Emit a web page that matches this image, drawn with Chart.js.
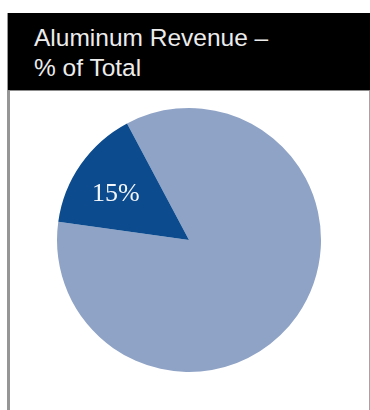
<!DOCTYPE html>
<html>
<head>
<meta charset="utf-8">
<script src="https://cdn.jsdelivr.net/npm/chart.js@4/dist/chart.umd.min.js"></script>
<style>
  html, body { margin: 0; padding: 0; background: #fff; width: 370px; height: 410px; overflow: hidden; }
  #frame {
    position: absolute; left: 7px; top: 13px; width: 359px; height: 420px;
    border-left: 3px solid #969696; border-right: 2px solid #a4a4a4;
  }
  #head {
    position: absolute; left: 8px; top: 13px; width: 362px; height: 77px;
    background: #000; border-bottom: 1px solid #8c8c8c;
  }
  #title {
    position: absolute; left: 34px; top: 23px;
    color: #ececec; font-family: "Liberation Sans", Arial, sans-serif;
    font-size: 24.5px; line-height: 30px; white-space: nowrap;
  }
  #wrap { position: absolute; left: 0; top: 91px; width: 370px; height: 319px; }
</style>
</head>
<body>
<div id="frame"></div>
<div id="head"></div>
<div id="title">Aluminum Revenue –<br>% of Total</div>
<div id="wrap"><canvas id="pie" width="370" height="319"></canvas></div>
<script>
// Share of revenue: rest of the business vs. aluminum
const categories = ["Other", "Aluminum"];
const shares = [85, 15];
const sliceColors = ["#8fa3c6", "#0b4b8e"];
const labelled = [false, true];

// Writes the percentage inside each labelled slice
const sliceLabels = {
  id: "sliceLabels",
  afterDatasetsDraw(chart) {
    const ctx = chart.ctx;
    const meta = chart.getDatasetMeta(0);
    meta.data.forEach((arc, i) => {
      if (!labelled[i]) return;
      const p = arc.getProps(["x", "y", "startAngle", "endAngle", "outerRadius"], true);
      const mid = (p.startAngle + p.endAngle) / 2 - 0.05;
      const r = p.outerRadius * 0.655;
      ctx.save();
      ctx.fillStyle = "#f4f6fa";
      ctx.font = "26px 'Liberation Serif', 'DejaVu Serif', serif";
      ctx.textAlign = "center";
      ctx.textBaseline = "middle";
      ctx.fillText(shares[i] + "%", p.x + Math.cos(mid) * r, p.y + Math.sin(mid) * r);
      ctx.restore();
    });
  }
};

new Chart(document.getElementById("pie"), {
  type: "pie",
  data: {
    labels: categories,
    datasets: [{
      data: shares,
      backgroundColor: sliceColors,
      borderWidth: 0
    }]
  },
  options: {
    responsive: false,
    animation: false,
    rotation: -28,
    layout: { padding: { left: 57, right: 49, top: 17, bottom: 38 } },
    plugins: {
      legend: { display: false },
      tooltip: { enabled: false },
      title: { display: false }
    }
  },
  plugins: [sliceLabels]
});
</script>
</body>
</html>
